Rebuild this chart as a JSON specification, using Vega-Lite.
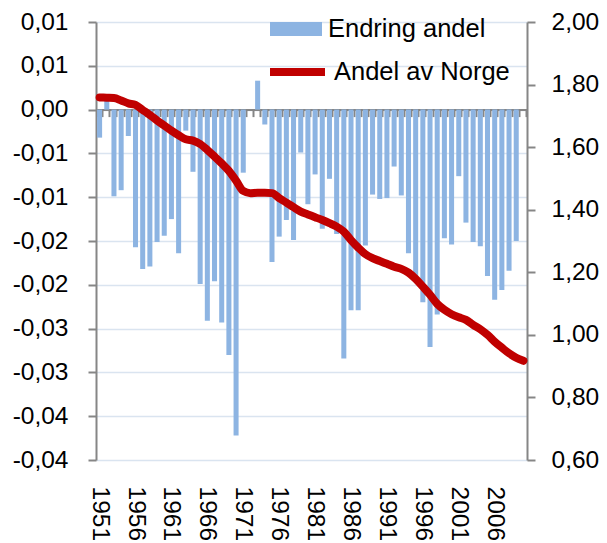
{
  "$schema": "https://vega.github.io/schema/vega-lite/v6.json",
  "width": 431,
  "height": 438,
  "autosize": {"type": "none"},
  "padding": {"left": 96, "top": 22, "right": 80, "bottom": 83},
  "config": {
    "view": {"stroke": null},
    "font": "Liberation Sans",
    "axis": {"labelFont": "Liberation Sans", "labelFontSize": 24.5, "labelColor": "#000000", "title": null},
    "legend": {"labelFont": "Liberation Sans", "labelFontSize": 25.5, "labelColor": "#000000", "padding": 0, "rowPadding": 0, "labelLimit": 400}
  },
  "data": {
    "values": [
      {"year": 1951, "endring": -0.0032, "andel": 1.759},
      {"year": 1952, "endring": 0.0010, "andel": 1.758},
      {"year": 1953, "endring": -0.0099, "andel": 1.757},
      {"year": 1954, "endring": -0.0092, "andel": 1.749},
      {"year": 1955, "endring": -0.0030, "andel": 1.740},
      {"year": 1956, "endring": -0.0157, "andel": 1.735},
      {"year": 1957, "endring": -0.0182, "andel": 1.719},
      {"year": 1958, "endring": -0.0179, "andel": 1.703},
      {"year": 1959, "endring": -0.0151, "andel": 1.685},
      {"year": 1960, "endring": -0.0144, "andel": 1.669},
      {"year": 1961, "endring": -0.0125, "andel": 1.653},
      {"year": 1962, "endring": -0.0164, "andel": 1.638},
      {"year": 1963, "endring": -0.0024, "andel": 1.625},
      {"year": 1964, "endring": -0.0071, "andel": 1.621},
      {"year": 1965, "endring": -0.0199, "andel": 1.610},
      {"year": 1966, "endring": -0.0241, "andel": 1.591},
      {"year": 1967, "endring": -0.0196, "andel": 1.570},
      {"year": 1968, "endring": -0.0243, "andel": 1.548},
      {"year": 1969, "endring": -0.0280, "andel": 1.524},
      {"year": 1970, "endring": -0.0372, "andel": 1.493},
      {"year": 1971, "endring": -0.0072, "andel": 1.460},
      {"year": 1972, "endring": null, "andel": 1.453},
      {"year": 1973, "endring": 0.0033, "andel": 1.454},
      {"year": 1974, "endring": -0.0017, "andel": 1.454},
      {"year": 1975, "endring": -0.0174, "andel": 1.453},
      {"year": 1976, "endring": -0.0145, "andel": 1.437},
      {"year": 1977, "endring": -0.0126, "andel": 1.423},
      {"year": 1978, "endring": -0.0149, "andel": 1.408},
      {"year": 1979, "endring": -0.0049, "andel": 1.394},
      {"year": 1980, "endring": -0.0108, "andel": 1.385},
      {"year": 1981, "endring": -0.0074, "andel": 1.376},
      {"year": 1982, "endring": -0.0136, "andel": 1.367},
      {"year": 1983, "endring": -0.0079, "andel": 1.357},
      {"year": 1984, "endring": -0.0142, "andel": 1.346},
      {"year": 1985, "endring": -0.0284, "andel": 1.330},
      {"year": 1986, "endring": -0.0229, "andel": 1.303},
      {"year": 1987, "endring": -0.0229, "andel": 1.279},
      {"year": 1988, "endring": -0.0155, "andel": 1.258},
      {"year": 1989, "endring": -0.0097, "andel": 1.245},
      {"year": 1990, "endring": -0.0102, "andel": 1.236},
      {"year": 1991, "endring": -0.0101, "andel": 1.227},
      {"year": 1992, "endring": -0.0065, "andel": 1.218},
      {"year": 1993, "endring": -0.0098, "andel": 1.211},
      {"year": 1994, "endring": -0.0164, "andel": 1.199},
      {"year": 1995, "endring": -0.0190, "andel": 1.179},
      {"year": 1996, "endring": -0.0220, "andel": 1.154},
      {"year": 1997, "endring": -0.0271, "andel": 1.128},
      {"year": 1998, "endring": -0.0234, "andel": 1.099},
      {"year": 1999, "endring": -0.0147, "andel": 1.080},
      {"year": 2000, "endring": -0.0154, "andel": 1.066},
      {"year": 2001, "endring": -0.0076, "andel": 1.056},
      {"year": 2002, "endring": -0.0129, "andel": 1.048},
      {"year": 2003, "endring": -0.0151, "andel": 1.032},
      {"year": 2004, "endring": -0.0156, "andel": 1.018},
      {"year": 2005, "endring": -0.0190, "andel": 1.000},
      {"year": 2006, "endring": -0.0217, "andel": 0.978},
      {"year": 2007, "endring": -0.0206, "andel": 0.959},
      {"year": 2008, "endring": -0.0184, "andel": 0.941},
      {"year": 2009, "endring": -0.0150, "andel": 0.927},
      {"year": 2010, "endring": null, "andel": 0.917}
    ]
  },
  "layer": [
    {
      "mark": {"type": "bar"},
      "encoding": {
        "x": {
          "field": "year",
          "type": "ordinal",
          "scale": {"paddingInner": 0.3, "paddingOuter": 0.15},
          "axis": {
            "orient": "bottom",
            "domain": false,
            "ticks": false,
            "grid": false,
            "labelAngle": 90,
            "labelPadding": 26,
            "labelOverlap": false,
            "labelBound": false,
            "values": [1951, 1956, 1961, 1966, 1971, 1976, 1981, 1986, 1991, 1996, 2001, 2006]
          }
        },
        "y": {
          "field": "endring",
          "type": "quantitative",
          "scale": {"domain": [-0.04, 0.01], "nice": false, "zero": false},
          "axis": {
            "orient": "left",
            "values": [-0.04, -0.035, -0.03, -0.025, -0.02, -0.015, -0.01, -0.005, 0, 0.005, 0.01],
            "labelExpr": "(datum.value < -0.0001 ? '-' : '') + replace(format(floor(abs(datum.value) * 100 + 0.500001) / 100, '.2f'), '.', ',')",
            "domain": true,
            "domainColor": "#868686",
            "domainWidth": 2,
            "ticks": true,
            "tickSize": 8,
            "tickColor": "#868686",
            "tickWidth": 2,
            "labelPadding": 20,
            "grid": true,
            "gridColor": "#DAE4F0",
            "gridWidth": 1.5
          }
        },
        "color": {
          "datum": "Endring andel",
          "scale": {"range": ["#8DB4E2"]},
          "legend": {
            "orient": "none",
            "legendX": 174,
            "legendY": -19,
            "title": null,
            "symbolType": "M-1,-0.27H1V0.27H-1Z",
            "symbolSize": 2704,
            "symbolStrokeWidth": 0,
            "labelOffset": 6
          }
        }
      }
    },
    {
      "mark": {"type": "line", "strokeWidth": 8, "interpolate": "monotone", "strokeCap": "round", "strokeJoin": "round"},
      "encoding": {
        "x": {
          "field": "year",
          "type": "ordinal",
          "axis": {
            "orient": "bottom",
            "offset": -350.4,
            "domain": true,
            "domainColor": "#868686",
            "domainWidth": 2,
            "ticks": true,
            "tickBand": "extent",
            "tickSize": 7,
            "tickColor": "#868686",
            "tickWidth": 2,
            "labels": false,
            "grid": false
          }
        },
        "y": {
          "field": "andel",
          "type": "quantitative",
          "scale": {"domain": [0.6, 2.0], "nice": false, "zero": false},
          "axis": {
            "orient": "right",
            "values": [0.6, 0.8, 1.0, 1.2, 1.4, 1.6, 1.8, 2.0],
            "labelExpr": "replace(format(datum.value, '.2f'), '.', ',')",
            "domain": true,
            "domainColor": "#868686",
            "domainWidth": 2,
            "ticks": true,
            "tickSize": 8,
            "tickColor": "#868686",
            "tickWidth": 2,
            "labelPadding": 16,
            "grid": false
          }
        },
        "color": {
          "datum": "Andel av Norge",
          "scale": {"range": ["#C00000"]},
          "legend": {
            "orient": "none",
            "legendX": 170,
            "legendY": 18.5,
            "title": null,
            "symbolType": "stroke",
            "symbolSize": 3025,
            "symbolStrokeWidth": 8,
            "labelOffset": 5
          }
        }
      }
    }
  ],
  "resolve": {"scale": {"y": "independent", "color": "independent"}, "axis": {"x": "independent"}}
}
